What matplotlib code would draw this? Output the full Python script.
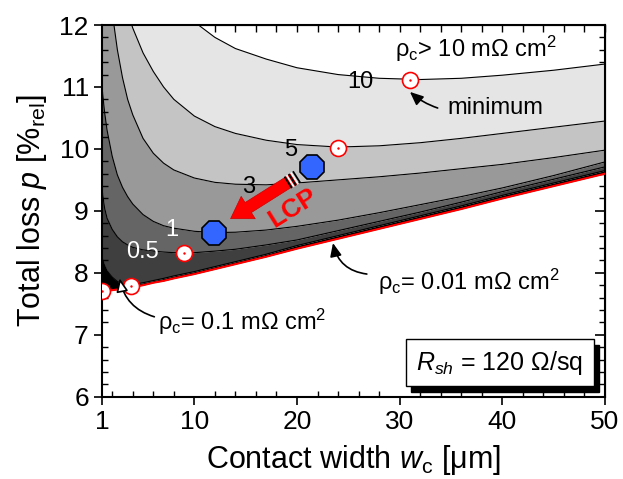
import numpy as np
import matplotlib
matplotlib.use("Agg")
import matplotlib.pyplot as plt
from matplotlib.patches import Rectangle, FancyArrowPatch
from matplotlib.ticker import MultipleLocator

plt.rcParams['font.family'] = ['Liberation Sans', 'DejaVu Sans']
plt.rcParams['mathtext.fontset'] = 'custom'
plt.rcParams['mathtext.rm'] = 'Liberation Sans'
plt.rcParams['mathtext.it'] = 'Liberation Sans:italic'

# ----------------- DATA -----------------
wc = [1, 1.25, 1.5, 2, 2.5, 3, 3.5, 4, 5, 6, 7, 8, 10, 12, 14, 17, 20, 24, 28, 32, 36, 40, 45, 50]

loss_001 = [7.70, 7.70, 7.71, 7.72, 7.73, 7.74, 7.755, 7.77, 7.80, 7.84, 7.87, 7.91,
            7.98, 8.06, 8.14, 8.26, 8.39, 8.55, 8.71, 8.87, 9.03, 9.20, 9.40, 9.60]
loss_01 = [8.25, 8.12, 8.03, 7.93, 7.86, 7.82, 7.80, 7.81, 7.84, 7.875, 7.91, 7.95,
           8.02, 8.10, 8.18, 8.30, 8.44, 8.60, 8.76, 8.92, 9.08, 9.25, 9.45, 9.65]
loss_05 = [9.35, 9.05, 8.88, 8.70, 8.58, 8.50, 8.45, 8.41, 8.37, 8.35, 8.335, 8.325,
           8.325, 8.35, 8.38, 8.45, 8.53, 8.68, 8.83, 8.98, 9.14, 9.31, 9.51, 9.71]
loss_1 = [11.0, 10.6, 10.3, 9.88, 9.58, 9.38, 9.23, 9.11, 8.94, 8.83, 8.76, 8.72,
          8.67, 8.65, 8.655, 8.69, 8.75, 8.85, 8.97, 9.10, 9.23, 9.37, 9.57, 9.79]
loss_3 = [14.5, 13.6, 13.0, 12.2, 11.6, 11.15, 10.8, 10.55, 10.17, 9.93, 9.77, 9.66,
          9.53, 9.46, 9.43, 9.42, 9.45, 9.50, 9.55, 9.61, 9.68, 9.75, 9.86, 9.98]
loss_5 = [17.0, 16.0, 15.0, 13.8, 13.0, 12.5, 12.2, 11.95, 11.55, 11.25, 11.0, 10.80,
          10.53, 10.36, 10.25, 10.14, 10.07, 10.03, 10.05, 10.10, 10.17, 10.25, 10.35, 10.45]
loss_10 = [30.0, 26.0, 23.0, 20.0, 18.0, 16.5, 15.5, 14.8, 13.8, 13.2, 12.75, 12.45,
           12.05, 11.80, 11.62, 11.45, 11.31, 11.20, 11.14, 11.12, 11.14, 11.19, 11.27, 11.37]

curves = [loss_001, loss_01, loss_05, loss_1, loss_3, loss_5, loss_10]
band_colors = ['#000000', '#3f3f3f', '#656565', '#999999', '#c4c4c4', '#e5e5e5']

# minima of the curves (red circles) and LCP points (blue octagons)
min_wc = [1, 3.8, 9, 24, 31]
min_loss = [7.70, 7.78, 8.32, 10.02, 11.12]
lcp_wc = [11.9, 21.5]
lcp_loss = [8.65, 9.71]

# ----------------- FIGURE -----------------
fig = plt.figure(figsize=(6.23, 4.79), dpi=100)
ax = fig.add_axes([0.1637, 0.1718, 0.8074, 0.776])
ax.set_xlim(1, 50)
ax.set_ylim(6, 12)

for i in range(len(band_colors)):
    ax.fill_between(wc, curves[i], curves[i + 1], color=band_colors[i], lw=0, zorder=1)
for c in curves[1:]:
    ax.plot(wc, c, color='k', lw=0.8, zorder=2)
ax.plot(wc, loss_001, color='red', lw=1.5, zorder=3)

ax.plot(min_wc, min_loss, 'o', ms=11.5, mfc='white', mec='red', mew=1.2, zorder=6)
ax.plot(min_wc, min_loss, '.', ms=1.5, color='red', zorder=7)
ax.plot(lcp_wc, lcp_loss, '8', ms=19, mfc='#3366ff', mec='k', mew=1.2, zorder=6)

# contour labels
ax.text(26.2, 11.08, '10', fontsize=17, ha='center', va='center', zorder=4)
ax.text(19.4, 9.98, '5', fontsize=17, ha='center', va='center', zorder=4)
ax.text(15.3, 9.39, '3', fontsize=17, ha='center', va='center', zorder=4)
ax.text(7.85, 8.69, '1', fontsize=17, ha='center', va='center', color='white', zorder=4)
ax.text(4.9, 8.33, '0.5', fontsize=17, ha='center', va='center', color='white', zorder=4)

# annotations
ax.text(29.5, 11.62, r'ρ$_{\rm c}$> 10 mΩ cm$^2$', fontsize=17, va='center', zorder=8)
ax.text(34.7, 10.66, 'minimum', fontsize=17, va='center', zorder=8)
ax.annotate('', xy=(31.0, 10.92), xytext=(33.7, 10.66),
            arrowprops=dict(arrowstyle='-|>,head_width=0.35,head_length=0.8', color='k', lw=1.2,
                            connectionstyle='arc3,rad=-0.1', shrinkA=0, shrinkB=0), zorder=8)
ax.text(27.9, 7.85, r'ρ$_{\rm c}$= 0.01 mΩ cm$^2$', fontsize=17, va='center', zorder=8)
ax.annotate('', xy=(23.5, 8.48), xytext=(26.8, 7.98),
            arrowprops=dict(arrowstyle='-|>,head_width=0.35,head_length=0.8', color='k', lw=1.2,
                            connectionstyle='arc3,rad=-0.35', shrinkA=0, shrinkB=0), zorder=8)
ax.text(6.45, 7.2, r'ρ$_{\rm c}$= 0.1 mΩ cm$^2$', fontsize=17, va='center', zorder=8)
ax.annotate('', xy=(2.72, 7.91), xytext=(6.1, 7.29),
            arrowprops=dict(arrowstyle='-|>,head_width=0.35,head_length=0.8', fc='white', ec='k',
                            lw=1.2, connectionstyle='arc3,rad=-0.3', shrinkA=0, shrinkB=0), zorder=8)

# LCP arrow
tail, tip = (20.0, 9.55), (13.3, 8.85)
ax.add_patch(FancyArrowPatch(tail, tip, arrowstyle='simple,head_width=19,head_length=15,tail_width=8.5',
                             mutation_scale=1, fc='red', ec='#d00000', lw=0.5, zorder=5))
p0 = ax.transData.transform(tail)
p1 = ax.transData.transform(tip)
d = (p1 - p0) / np.hypot(*(p1 - p0))
n = np.array([-d[1], d[0]])
inv = ax.transData.inverted()
for s, col in zip([0.5, 3.0, 5.5, 8.0, 10.5], ['k', 'w', 'k', 'w', 'k']):
    a = inv.transform(p0 + d * s + n * 6.8)
    b = inv.transform(p0 + d * s - n * 6.8)
    ax.plot([a[0], b[0]], [a[1], b[1]], color=col, lw=1.3, solid_capstyle='butt', zorder=5.5)
ax.text(19.6, 9.05, 'LCP', fontsize=19, fontweight='bold', color='red', rotation=32,
        ha='center', va='center', zorder=8)

# sheet resistance box with shadow
ax.add_patch(Rectangle((31.1, 6.07), 18.3, 0.76, fc='k', ec='k', zorder=8))
ax.add_patch(Rectangle((30.6, 6.17), 18.3, 0.76, fc='white', ec='k', lw=1, zorder=9))
ax.text(39.75, 6.55, r'$R_{sh}$ = 120 Ω/sq', fontsize=18, ha='center', va='center', zorder=10)

# ----------------- AXES -----------------
ax.set_xticks([1, 10, 20, 30, 40, 50])
ax.xaxis.set_minor_locator(MultipleLocator(2))
ax.yaxis.set_major_locator(MultipleLocator(1))
ax.yaxis.set_minor_locator(MultipleLocator(0.2))
ax.tick_params(which='major', direction='out', length=6, width=1.2, labelsize=19)
ax.tick_params(which='minor', direction='in', length=4, width=1)
for sp in ax.spines.values():
    sp.set_linewidth(1.5)

secx = ax.secondary_xaxis('top')
secx.set_xticks([1, 10, 20, 30, 40, 50])
secx.xaxis.set_minor_locator(MultipleLocator(2))
secx.tick_params(which='both', direction='in', length=5, width=1, labeltop=False)
secy = ax.secondary_yaxis('right')
secy.yaxis.set_major_locator(MultipleLocator(1))
secy.yaxis.set_minor_locator(MultipleLocator(0.2))
secy.tick_params(which='major', direction='in', length=7, width=1.2, labelright=False)
secy.tick_params(which='minor', direction='in', length=4, width=1)

ax.set_xlabel(r'Contact width $w_{\rm c}$ [μm]', fontsize=22)
ax.set_ylabel(r'Total loss $p$ [%$_{\rm rel}$]', fontsize=22)
ax.xaxis.set_label_coords(0.5, -0.125)
ax.yaxis.set_label_coords(-0.105, 0.5)

fig.savefig('out.png', dpi=100)
